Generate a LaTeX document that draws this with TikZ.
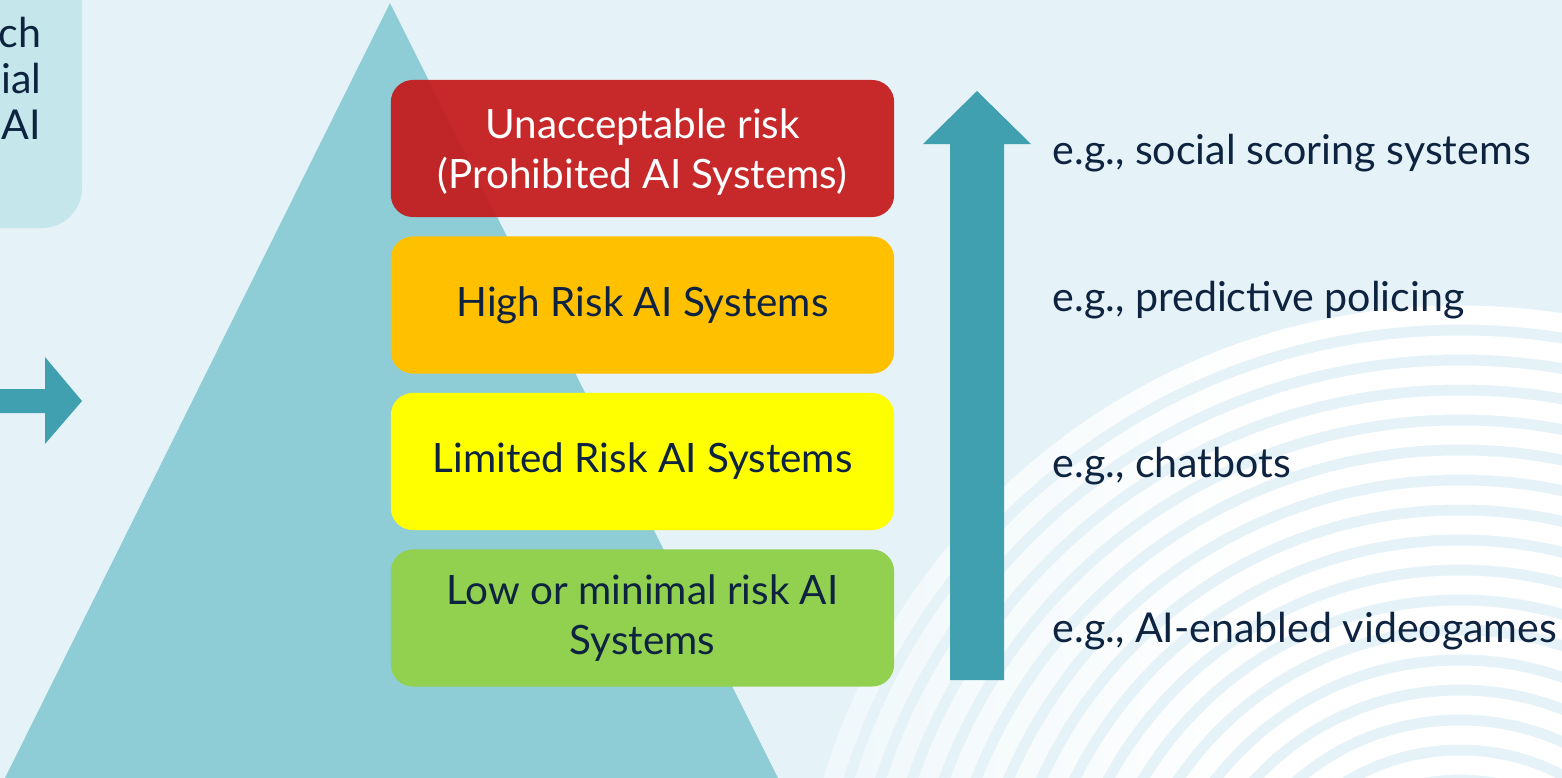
\documentclass[tikz,border=0pt]{standalone}
\usepackage{fontspec}
\setmainfont{Lato}
\usetikzlibrary{positioning,fadings}

\definecolor{bgblue}{HTML}{E5F3F8}
\definecolor{pyramid}{HTML}{8ECDD6}
\definecolor{panelblue}{HTML}{C5E6EA}
\definecolor{arrowteal}{HTML}{41A0B0}
\definecolor{navy}{HTML}{0D2340}
\definecolor{riskred}{HTML}{C5181A}
\definecolor{riskorange}{HTML}{FFC000}
\definecolor{riskyellow}{HTML}{FFFF00}
\definecolor{riskgreen}{HTML}{92D050}

\tikzset{
  riskbox/.style={rounded corners=0.22cm, minimum width=5.03cm, minimum height=1.37cm,
    align=center, text=navy, inner sep=0pt, font=\fontsize{11.5}{14}\selectfont},
  egtext/.style={anchor=west, text=navy, inner sep=0pt, font=\fontsize{11.7}{14}\selectfont},
  ring/.style={white, line width=0.19cm}
}

\begin{document}
\begin{tikzpicture}[x=0.01cm,y=-0.01cm]
\clip (0,0) rectangle (1562,778);
\fill[bgblue] (0,0) rectangle (1562,778);

% rings in the corner
\foreach \r in {175,205,...,655}
  \draw[ring] (1460,970) circle[radius={\r*0.01cm}];
\fill[bgblue, fill opacity=0.65, path fading=east] (760,250) rectangle (1250,778);

% pyramid
\fill[pyramid] (5,778) -- (390,3) -- (778,778) -- cycle;

% cut panel on the left
\fill[panelblue,rounded corners=0.4cm] (-100,-100) rectangle (82,228);
\node[anchor=north east, align=right, text=navy, inner sep=0pt,
  font=\fontsize{11.7}{13.1}\selectfont] (panelText) at (42,16) {ch\\ial\\AI};

% arrows
\fill[arrowteal] (0,389) -- (45,389) -- (45,357) -- (82,401) -- (45,444) -- (45,413) -- (0,413) -- cycle;
\fill[arrowteal] (950,680) -- (950,144) -- (923,144) -- (977,91) -- (1031,144) -- (1004,144) -- (1004,680) -- cycle;

% risk levels
\node[riskbox, fill=riskred, fill opacity=0.92, text opacity=1, text=white, text depth=0pt] (unacc) at (642.5,148.5)
  {Unacceptable risk\\(Prohibited AI Systems)};
\node[riskbox, fill=riskorange, below=0.18cm of unacc] (high) {High Risk AI Systems};
\node[riskbox, fill=riskyellow, below=0.18cm of high] (limited) {Limited Risk AI Systems};
\node[riskbox, fill=riskgreen, below=0.18cm of limited] (minimal) {Low or minimal risk AI\\Systems};

% examples
\node[egtext] (egUnacc) at (1052,153) {e.g., social scoring systems};
\node[egtext] (egHigh) at (1052,300) {e.g., predictive policing};
\node[egtext] (egLimited) at (1052,466) {e.g., chatbots};
\node[egtext] (egMinimal) at (1052,631) {e.g., AI-enabled videogames};
\end{tikzpicture}
\end{document}
